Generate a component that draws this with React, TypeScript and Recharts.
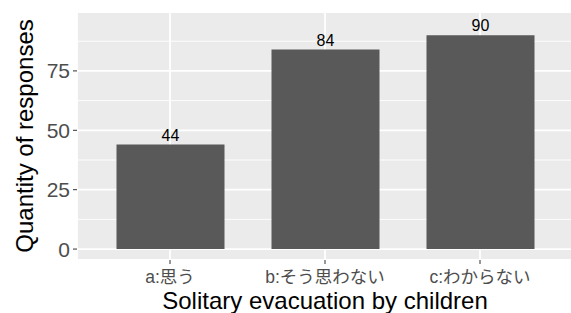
import { Bar, BarChart, CartesianGrid, LabelList, XAxis, YAxis } from 'recharts';

const categories = ['a:思う', 'b:そう思わない', 'c:わからない'];
const responses = [44, 84, 90];
const majorTicks = [0, 25, 50, 75];
const minorTicks = [12.5, 37.5, 62.5, 87.5];

const data = categories.map((name, i) => ({ name, value: responses[i] }));

const FONT = '"Liberation Sans", Arial, "Noto Sans CJK JP", sans-serif';
const DOMAIN: [number, number] = [-4.6, 99.8];

export default function App() {
  return (
    <div style={{ position: 'absolute', left: 0, top: 0, width: 571, height: 313, overflow: 'hidden', background: '#fff' }}>
      <BarChart
        width={573}
        height={313}
        data={data}
        margin={{ top: 12, right: 0, bottom: 0, left: 0 }}
        barSize={108}
      >
        <CartesianGrid
          yAxisId="minor"
          fill="#EBEBEB"
          stroke="#FFFFFF"
          strokeWidth={0.9}
          vertical={false}
        />
        <CartesianGrid stroke="#FFFFFF" strokeWidth={1.8} />
        <XAxis
          dataKey="name"
          height={53}
          padding={{ left: 15.5, right: 15.5 }}
          axisLine={false}
          tickLine={{ stroke: '#333333', strokeWidth: 1 }}
          tickSize={4}
          tickMargin={7}
          tick={{ fill: '#4D4D4D', fontSize: 17.5, fontFamily: FONT }}
          label={{
            value: 'Solitary evacuation by children',
            position: 'center',
            dy: 14,
            fill: '#000000',
            fontSize: 24,
            fontFamily: FONT,
          }}
        />
        <YAxis
          width={77}
          domain={DOMAIN}
          ticks={majorTicks}
          allowDataOverflow
          axisLine={false}
          tickLine={{ stroke: '#333333', strokeWidth: 1 }}
          tickSize={4}
          tickMargin={3}
          tick={{ fill: '#4D4D4D', fontSize: 21, fontFamily: FONT }}
          label={{
            value: 'Quantity of responses',
            angle: -90,
            position: 'center',
            dx: -14,
            fill: '#000000',
            fontSize: 24,
            fontFamily: FONT,
          }}
        />
        <YAxis yAxisId="minor" hide domain={DOMAIN} ticks={minorTicks} allowDataOverflow />
        <Bar dataKey="value" fill="#595959" isAnimationActive={false}>
          <LabelList dataKey="value" position="top" offset={4} fill="#000000" fontSize={16} fontFamily={FONT} />
        </Bar>
      </BarChart>
    </div>
  );
}
